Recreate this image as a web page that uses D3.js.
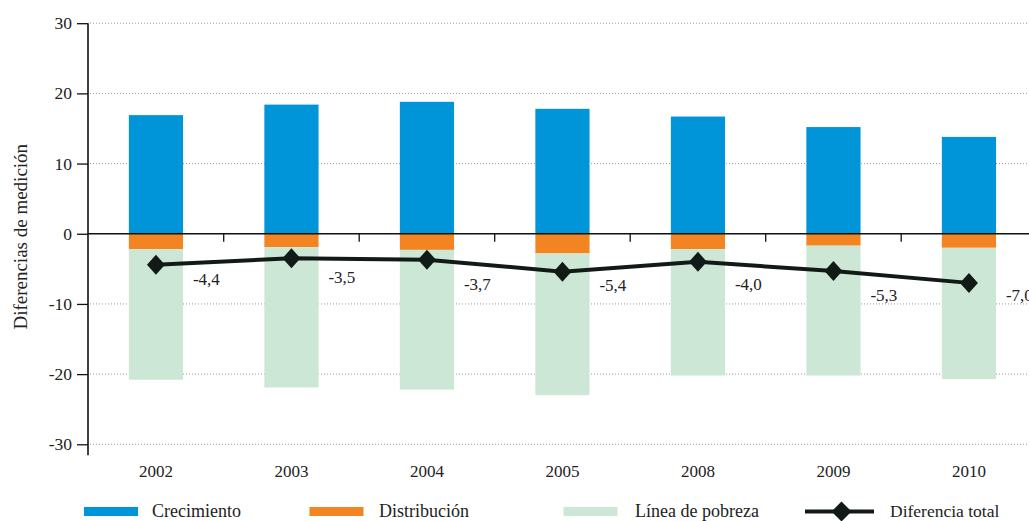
<!DOCTYPE html>
<html>
<head>
<meta charset="utf-8">
<script src="https://cdn.jsdelivr.net/npm/d3@7"></script>
<style>
  html, body { margin: 0; padding: 0; background: #fff; }
  svg { display: block; font-family: "Liberation Serif", "DejaVu Serif", serif; }
</style>
</head>
<body>
<svg id="chart" width="1029" height="521"></svg>
<script>
// Años de la descomposición
const years = ["2002", "2003", "2004", "2005", "2008", "2009", "2010"];
// Componentes de la diferencia (puntos porcentuales)
const crecimiento = [16.9, 18.4, 18.8, 17.8, 16.7, 15.2, 13.8];
const distribucion = [-2.2, -1.9, -2.3, -2.8, -2.2, -1.7, -2.0];
const lineaPobreza = [-18.6, -20.0, -19.9, -20.2, -18.0, -18.5, -18.7];
const diferenciaTotal = [-4.4, -3.5, -3.7, -5.4, -4.0, -5.3, -7.0];
const yTicks = [-30, -20, -10, 0, 10, 20, 30];

const seriesNames = ["Crecimiento", "Distribución", "Línea de pobreza"];
const colors = { "Crecimiento": "#0094d8", "Distribución": "#f38422", "Línea de pobreza": "#cde7d6" };
const lineColor = "#121a17";
const textColor = "#222";

const rows = years.map((y, i) => ({
  year: y,
  "Crecimiento": crecimiento[i],
  "Distribución": distribucion[i],
  "Línea de pobreza": lineaPobreza[i],
  total: diferenciaTotal[i]
}));

const svg = d3.select("#chart");
const fmt = v => d3.format(".1f")(v).replace(".", ",").replace("−", "-");

const x = d3.scaleBand().domain(years).range([88.2, 1036.7]).paddingInner(0.6).paddingOuter(0.3);
const y = d3.scaleLinear().domain([-30, 30]).range([444.3, 23.2]);

// Líneas de cuadrícula punteadas
svg.append("g")
  .selectAll("line")
  .data(yTicks.filter(t => t !== 0))
  .join("line")
  .attr("x1", 90).attr("x2", 1029)
  .attr("y1", d => y(d)).attr("y2", d => y(d))
  .attr("stroke", "#9a9a9a")
  .attr("stroke-width", 1)
  .attr("stroke-dasharray", "1,2");

// Barras apiladas (positivos arriba, negativos abajo)
const stack = d3.stack().keys(seriesNames).offset(d3.stackOffsetDiverging);
const stacked = stack(rows);

svg.append("g")
  .selectAll("g")
  .data(stacked)
  .join("g")
  .attr("fill", d => colors[d.key])
  .selectAll("rect")
  .data(d => d)
  .join("rect")
  .attr("x", d => x(d.data.year))
  .attr("width", x.bandwidth())
  .attr("y", d => y(Math.max(d[0], d[1])))
  .attr("height", d => Math.abs(y(d[0]) - y(d[1])));

// Eje Y
const yAxis = svg.append("g")
  .attr("transform", "translate(88,0)")
  .call(d3.axisLeft(y).tickValues(yTicks).tickSize(11).tickSizeOuter(0).tickFormat(d3.format("d")));
yAxis.select(".domain").remove();
yAxis.selectAll(".tick line").attr("stroke", "#111").attr("stroke-width", 1.3);
yAxis.selectAll(".tick text")
  .attr("x", -16)
  .attr("font-size", 17.5)
  .style("font-family", "'Liberation Serif', serif")
  .attr("fill", textColor)
  .text(d => String(d).replace("−", "-"));
svg.append("line")
  .attr("x1", 88).attr("x2", 88)
  .attr("y1", y(30)).attr("y2", y(-30) + 11)
  .attr("stroke", "#111").attr("stroke-width", 1.6);

// Línea del cero con marcas entre categorías
svg.append("line")
  .attr("x1", 88).attr("x2", 1029)
  .attr("y1", y(0)).attr("y2", y(0))
  .attr("stroke", "#111").attr("stroke-width", 1.6);
const step = x.step();
const boundaries = years.slice(1).map(yr => x(yr) - step * x.paddingInner() / 2);
svg.append("g")
  .selectAll("line")
  .data(boundaries)
  .join("line")
  .attr("x1", d => d).attr("x2", d => d)
  .attr("y1", y(0)).attr("y2", y(0) + 8)
  .attr("stroke", "#111").attr("stroke-width", 1.3);

// Etiquetas de categorías
svg.append("g")
  .selectAll("text")
  .data(years)
  .join("text")
  .attr("x", d => x(d) + x.bandwidth() / 2)
  .attr("y", 477)
  .attr("text-anchor", "middle")
  .attr("font-size", 17)
  .attr("fill", textColor)
  .text(d => d);

// Título del eje Y
svg.append("text")
  .attr("transform", `translate(27,${y(0) + 3}) rotate(-90)`)
  .attr("text-anchor", "middle")
  .attr("font-size", 19)
  .attr("fill", textColor)
  .text("Diferencias de medición");

// Marcador de rombo
const diamondShape = (w, h) => ({
  draw(context) {
    context.moveTo(0, -h);
    context.lineTo(w, 0);
    context.lineTo(0, h);
    context.lineTo(-w, 0);
    context.closePath();
  }
});

const cx = d => x(d.year) + x.bandwidth() / 2;

// Línea de diferencia total
svg.append("path")
  .datum(rows)
  .attr("fill", "none")
  .attr("stroke", lineColor)
  .attr("stroke-width", 4)
  .attr("d", d3.line().x(cx).y(d => y(d.total)));

svg.append("g")
  .selectAll("path")
  .data(rows)
  .join("path")
  .attr("transform", d => `translate(${cx(d)},${y(d.total)})`)
  .attr("fill", lineColor)
  .attr("d", d3.symbol().type(diamondShape(9, 10))());

// Etiquetas de valores, bajo el tramo que sigue a cada punto
svg.append("g")
  .selectAll("text")
  .data(rows)
  .join("text")
  .attr("x", d => cx(d) + 37)
  .attr("y", (d, i) => {
    const next = rows[i + 1];
    return next ? y((d.total + next.total) / 2) + 24 : y(d.total) + 18;
  })
  .attr("font-size", 17)
  .attr("fill", textColor)
  .text(d => fmt(d.total));

// Leyenda
const legend = svg.append("g");
const legendItems = [
  { name: "Crecimiento", sx: 84, tx: 152 },
  { name: "Distribución", sx: 309.5, tx: 379 },
  { name: "Línea de pobreza", sx: 563.5, tx: 635 }
];
legendItems.forEach(it => {
  legend.append("rect")
    .attr("x", it.sx).attr("y", 507)
    .attr("width", 54).attr("height", 9)
    .attr("fill", colors[it.name]);
  legend.append("text")
    .attr("x", it.tx).attr("y", 517)
    .attr("font-size", 18)
    .attr("fill", textColor)
    .text(it.name);
});
legend.append("line")
  .attr("x1", 805).attr("x2", 874)
  .attr("y1", 511.5).attr("y2", 511.5)
  .attr("stroke", lineColor).attr("stroke-width", 4);
legend.append("path")
  .attr("transform", "translate(841.5,511.5)")
  .attr("fill", lineColor)
  .attr("d", d3.symbol().type(diamondShape(10, 10))());
legend.append("text")
  .attr("x", 890).attr("y", 517)
  .attr("font-size", 17.5)
  .attr("fill", textColor)
  .text("Diferencia total");
</script>
</body>
</html>
